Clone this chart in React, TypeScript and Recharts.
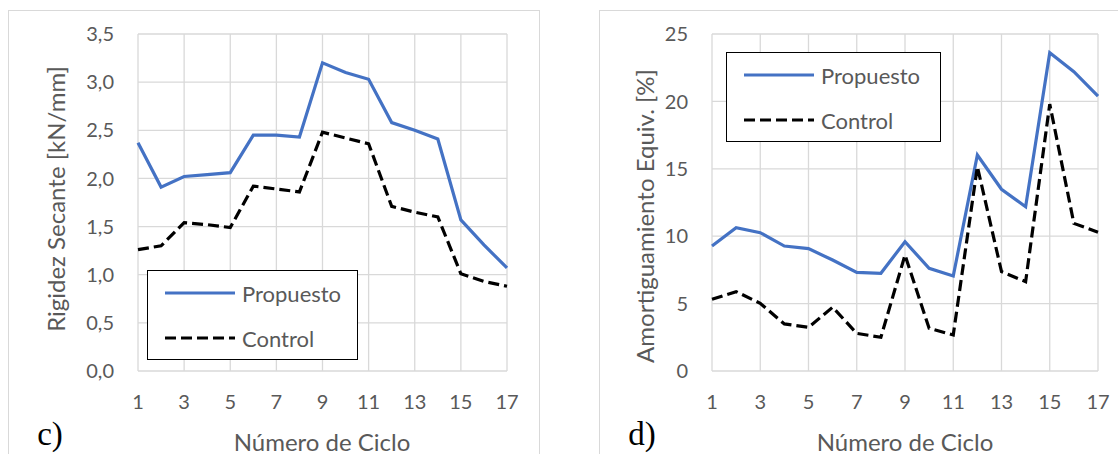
import React from "react"
import {
  CartesianGrid, Legend, Line, LineChart, XAxis, YAxis,
} from "recharts"

const ciclos = [1, 2, 3, 4, 5, 6, 7, 8, 9, 10, 11, 12, 13, 14, 15, 16, 17]
const xTicks = [1, 3, 5, 7, 9, 11, 13, 15, 17]

const rigidezPropuesto = [2.37, 1.91, 2.02, 2.04, 2.06, 2.45, 2.45, 2.43, 3.2, 3.1, 3.03, 2.58, 2.5, 2.41, 1.57, 1.31, 1.07]
const rigidezControl = [1.26, 1.3, 1.54, 1.52, 1.49, 1.92, 1.89, 1.86, 2.48, 2.42, 2.36, 1.71, 1.65, 1.6, 1.01, 0.93, 0.88]
const rigidezTicks = [0, 0.5, 1, 1.5, 2, 2.5, 3, 3.5]

const amortPropuesto = [9.27, 10.63, 10.26, 9.27, 9.08, 8.23, 7.32, 7.25, 9.59, 7.62, 7.05, 16.02, 13.48, 12.19, 23.61, 22.2, 20.4]
const amortControl = [5.32, 5.89, 5.02, 3.49, 3.24, 4.73, 2.79, 2.5, 8.6, 3.17, 2.67, 15.16, 7.37, 6.63, 19.8, 10.95, 10.29]
const amortTicks = [0, 5, 10, 15, 20, 25]

const rigidezData = ciclos.map((c, i) => ({ ciclo: c, Propuesto: rigidezPropuesto[i], Control: rigidezControl[i] }))
const amortData = ciclos.map((c, i) => ({ ciclo: c, Propuesto: amortPropuesto[i], Control: amortControl[i] }))

const FONT = "Lato, 'Open Sans', sans-serif"
const GRAY = "#595959"
const GRID = "#d9d9d9"
const BLUE = "#4472C4"
const DASH = "11 5"

const tickStyle = { fill: GRAY, fontSize: 20, fontFamily: FONT }

function LegendBox({ top }: { top: number }) {
  return () => {
    const items = [
      { name: "Propuesto", color: BLUE, dash: undefined },
      { name: "Control", color: "#000", dash: DASH },
    ]
    return (
      <div style={{
        width: "100%", height: "100%", boxSizing: "border-box",
        border: "1.5px solid #000", background: "#fff", position: "relative",
      }}>
        {items.map((it, i) => (
          <div key={it.name} style={{
            position: "absolute", left: 16, top: top + i * 45, height: 26,
            display: "flex", alignItems: "center",
          }}>
            <svg width={72} height={6} style={{ display: "block" }}>
              <line x1={1} y1={3} x2={71} y2={3} stroke={it.color} strokeWidth={3.2}
                strokeDasharray={it.dash} />
            </svg>
            <span style={{ marginLeft: 6, fontFamily: FONT, fontSize: 22, color: GRAY }}>
              {it.name}
            </span>
          </div>
        ))}
      </div>
    )
  }
}

const abs = (s: React.CSSProperties): React.CSSProperties => ({ position: "absolute", ...s })
const title: React.CSSProperties = { whiteSpace: "nowrap", fontFamily: FONT, fontSize: 24, color: GRAY }
const letter: React.CSSProperties = { fontFamily: "'Liberation Serif', serif", fontSize: 33, color: "#000", lineHeight: 1 }

export default function App() {
  return (
    <div style={abs({ left: 0, top: 0, width: 1118, height: 454, background: "#fff", overflow: "hidden" })}>
      {/* marcos */}
      <div style={abs({ left: 8, top: 10, width: 530, height: 460, border: "1px solid #d9d9d9" })} />
      <div style={abs({ left: 599, top: 10, width: 540, height: 460, border: "1px solid #d9d9d9" })} />

      {/* c) rigidez */}
      <div style={abs({ left: 0, top: 0 })}>
        <LineChart width={540} height={454} data={rigidezData}
          margin={{ top: 34, right: 33, bottom: 0, left: 0 }}>
          <CartesianGrid stroke={GRID} strokeWidth={1.3} />
          <XAxis dataKey="ciclo" type="number" domain={[1, 17]} ticks={xTicks}
            height={83} tickLine={false} axisLine={false} tickSize={0} tickMargin={24}
            tick={tickStyle} interval={0} />
          <YAxis type="number" domain={[0, 3.5]} ticks={rigidezTicks} width={138}
            tickLine={false} axisLine={false} tickSize={0} tickMargin={24}
            tick={tickStyle} interval={0}
            tickFormatter={(v) => Number(v).toFixed(1).replace(".", ",")} />
          <Legend content={LegendBox({ top: 9 })} layout="horizontal" verticalAlign="middle" align="center"
            wrapperStyle={{ position: "absolute", left: 147, top: 270, width: 211, height: 90 }} />
          <Line dataKey="Propuesto" stroke={BLUE} strokeWidth={3.2} dot={false} isAnimationActive={false} />
          <Line dataKey="Control" stroke="#000" strokeWidth={3.2} strokeDasharray={DASH} dot={false} isAnimationActive={false} />
        </LineChart>
      </div>

      {/* d) amortiguamiento */}
      <div style={abs({ left: 560, top: 0 })}>
        <LineChart width={558} height={454} data={amortData}
          margin={{ top: 34, right: 20, bottom: 0, left: 0 }}>
          <CartesianGrid stroke={GRID} strokeWidth={1.3} />
          <XAxis dataKey="ciclo" type="number" domain={[1, 17]} ticks={xTicks}
            height={83} tickLine={false} axisLine={false} tickSize={0} tickMargin={24}
            tick={tickStyle} interval={0} />
          <YAxis type="number" domain={[0, 25]} ticks={amortTicks} width={152}
            tickLine={false} axisLine={false} tickSize={0} tickMargin={24}
            tick={tickStyle} interval={0} />
          <Legend content={LegendBox({ top: 9 })} layout="horizontal" verticalAlign="middle" align="center"
            wrapperStyle={{ position: "absolute", left: 166, top: 52, width: 215, height: 90 }} />
          <Line dataKey="Propuesto" stroke={BLUE} strokeWidth={3.2} dot={false} isAnimationActive={false} />
          <Line dataKey="Control" stroke="#000" strokeWidth={3.2} strokeDasharray={DASH} dot={false} isAnimationActive={false} />
        </LineChart>
      </div>

      {/* títulos */}
      <div style={abs({ ...title, left: 55, top: 199, transform: "translate(-50%,-50%) rotate(-90deg)" })}>
        Rigidez Secante [kN/mm]
      </div>
      <div style={abs({ ...title, left: 644, top: 216, transform: "translate(-50%,-50%) rotate(-90deg)" })}>
        Amortiguamiento Equiv. [%]
      </div>
      <div style={abs({ ...title, left: 322, top: 441, transform: "translate(-50%,-50%)" })}>
        Número de Ciclo
      </div>
      <div style={abs({ ...title, left: 905, top: 441, transform: "translate(-50%,-50%)" })}>
        Número de Ciclo
      </div>
      <div style={abs({ ...letter, left: 50, top: 434, transform: "translate(-50%,-50%)" })}>
        c)
      </div>
      <div style={abs({ ...letter, left: 642, top: 434, transform: "translate(-50%,-50%)" })}>
        d)
      </div>
    </div>
  )
}
